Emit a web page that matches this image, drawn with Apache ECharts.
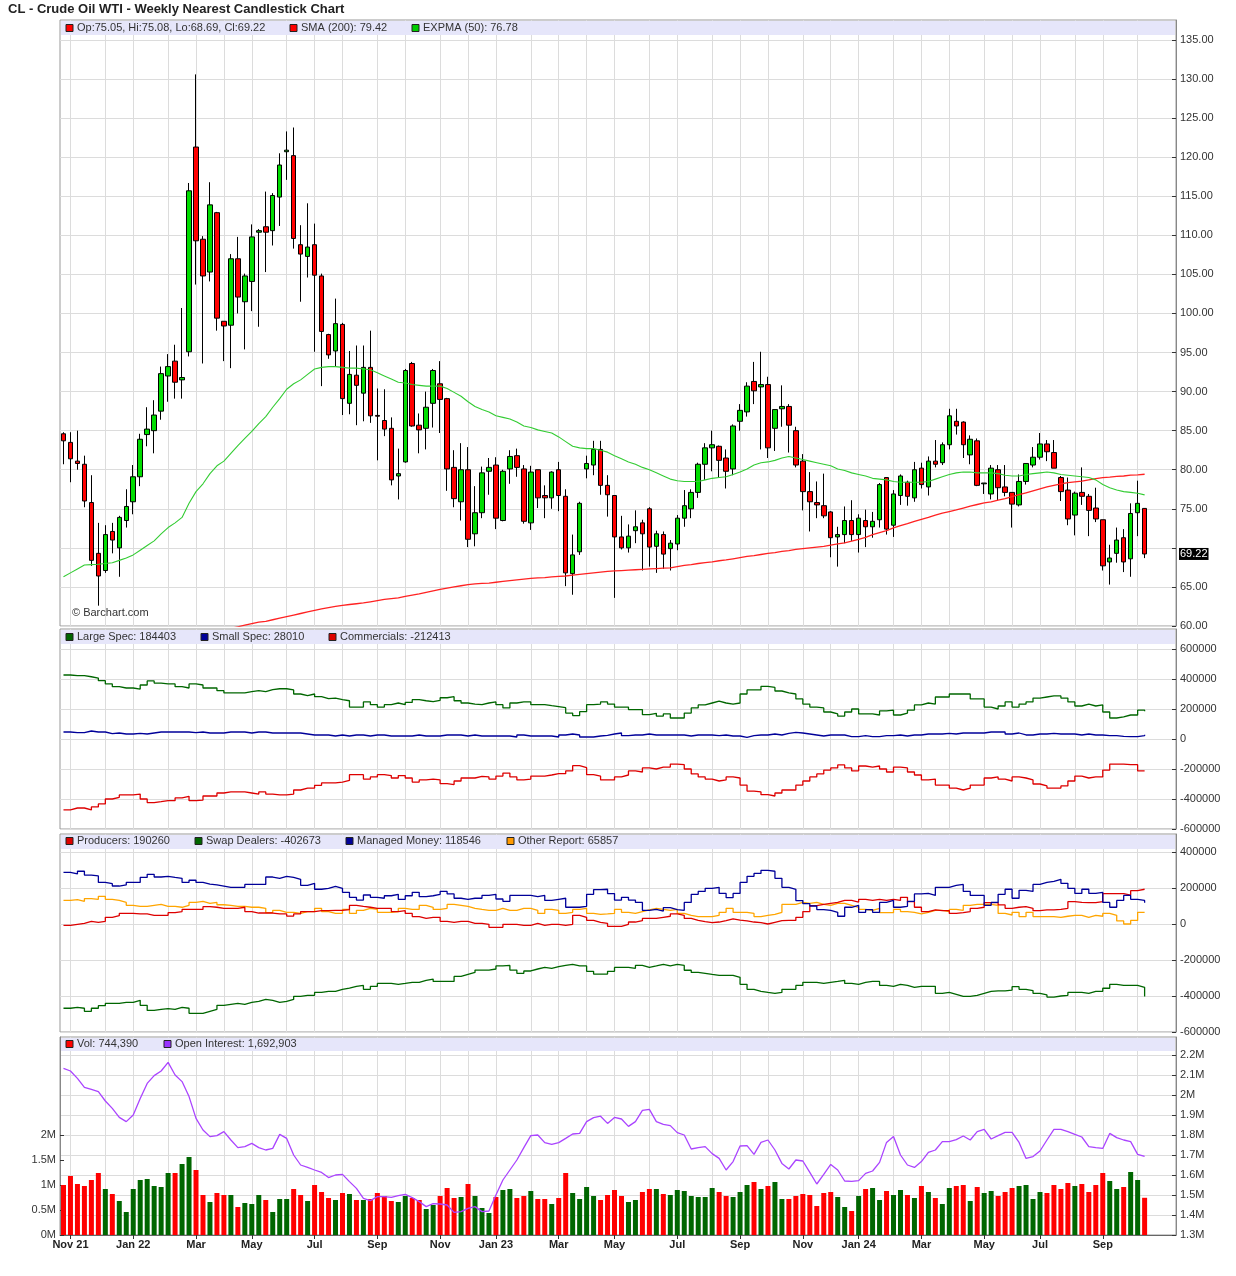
<!DOCTYPE html>
<html>
<head>
<meta charset="utf-8">
<script src="https://cdn.jsdelivr.net/npm/echarts@6/dist/echarts.min.js"></script>
<style>
html, body { margin: 0; padding: 0; background: #fff; }
#chart { width: 1236px; height: 1276px; }
</style>
</head>
<body>
<div id="chart"></div>
<script>
// weekly bars, first week starts Mon 2021-10-25 (4 empty weeks on the right)
var firstWeek = Date.UTC(2021, 9, 25);
var weeks = [];
for (var i = 0; i < 160; i++) {
    weeks.push(new Date(firstWeek + i * 7 * 864e5).toISOString().slice(0, 10));
}
var MONTHS = ['Jan','Feb','Mar','Apr','May','Jun','Jul','Aug','Sep','Oct','Nov','Dec'];

var opens = [
    84.6, 83.5, 81.1, 80.7, 75.8, 69.3, 67.1, 72.1, 70.0, 73.5,
    75.9, 79.1, 84.5, 85.0, 87.5, 92.0, 93.9, 91.5, 95.1, 121.3,
    109.5, 105.3, 112.9, 99.0, 98.5, 107.0, 101.5, 104.1, 110.4, 111.1,
    110.6, 114.9, 120.7, 120.2, 108.8, 107.3, 108.8, 104.8, 97.3, 95.2,
    98.6, 88.5, 92.1, 89.8, 93.1, 86.95, 86.3, 85.3, 79.2, 81.0,
    93.6, 85.7, 85.3, 88.5, 91.0, 89.1, 80.3, 75.9, 80.0, 71.8,
    74.5, 79.8, 80.6, 73.5, 80.1, 81.8, 80.1, 73.2, 80.0, 76.7,
    76.4, 80.0, 76.6, 66.7, 69.5, 80.1, 80.6, 82.6, 78.0, 76.7,
    71.4, 70.0, 72.2, 73.2, 75.0, 70.2, 71.7, 69.9, 70.5, 73.8,
    75.0, 77.1, 80.7, 82.8, 83.0, 81.5, 80.1, 86.2, 87.4, 91.3,
    90.6, 90.9, 85.3, 87.8, 88.1, 85.0, 81.1, 77.2, 75.8, 75.4,
    74.6, 71.4, 71.7, 73.5, 71.7, 73.5, 72.7, 73.6, 79.0, 72.9,
    76.7, 78.4, 76.4, 80.2, 77.8, 81.1, 80.9, 83.2, 86.2, 86.1,
    81.9, 83.7, 78.2, 76.9, 80.0, 77.8, 77.1, 75.5, 78.5, 80.6,
    81.6, 83.3, 82.2, 79.0, 77.4, 74.2, 77.1, 76.6, 75.1, 73.6,
    68.2, 69.3, 71.3, 68.6, 74.5, 75.05
];
var highs = [
    84.8, 84.8, 85.0, 81.8, 79.3, 73.2, 72.9, 73.2, 74.1, 77.5,
    80.6, 84.6, 88.0, 88.9, 93.2, 94.8, 96.0, 100.7, 116.7, 130.6,
    109.9, 116.8, 113.0, 99.0, 107.6, 109.8, 105.1, 111.4, 110.8, 115.6,
    115.4, 120.5, 123.3, 123.8, 111.3, 114.1, 111.5, 105.1, 97.4, 101.9,
    98.8, 95.2, 95.9, 95.9, 97.8, 90.4, 90.3, 86.7, 82.7, 92.9,
    93.8, 87.2, 90.0, 92.9, 93.9, 89.2, 82.5, 83.4, 82.9, 77.9,
    80.4, 81.5, 81.6, 80.0, 82.5, 82.7, 80.6, 80.5, 80.0, 78.0,
    79.8, 81.0, 77.5, 71.7, 75.9, 81.8, 83.7, 83.7, 79.3, 76.7,
    74.1, 73.0, 74.8, 73.6, 75.2, 72.2, 72.1, 71.0, 74.2, 77.4,
    77.5, 80.9, 83.4, 85.0, 83.1, 82.6, 85.8, 88.4, 91.2, 93.8,
    95.1, 91.9, 87.7, 90.8, 88.4, 85.5, 82.0, 79.7, 78.5, 79.5,
    74.7, 72.7, 75.3, 76.1, 74.3, 74.9, 74.6, 78.3, 79.0, 77.4,
    79.4, 78.6, 81.0, 80.9, 81.7, 83.8, 83.5, 87.8, 87.8, 86.2,
    84.4, 84.0, 78.3, 80.6, 80.6, 80.6, 77.1, 79.4, 80.8, 82.9,
    84.7, 83.8, 83.8, 79.2, 79.0, 77.2, 80.3, 76.9, 77.7, 73.6,
    70.4, 72.6, 72.4, 75.7, 78.6, 75.08
];
var lows = [
    80.7, 78.4, 80.0, 75.2, 67.7, 62.6, 66.8, 69.3, 66.3, 72.6,
    74.3, 77.9, 83.0, 82.1, 86.4, 88.7, 89.1, 89.1, 94.5, 103.7,
    93.6, 104.1, 97.8, 93.9, 93.0, 100.0, 95.4, 100.3, 98.3, 105.3,
    108.7, 111.2, 117.1, 108.3, 101.5, 104.6, 95.1, 90.7, 94.2, 93.2,
    87.0, 87.1, 85.7, 86.2, 86.0, 81.2, 84.3, 78.0, 76.2, 80.9,
    85.5, 82.1, 82.6, 85.4, 84.7, 77.3, 75.2, 73.5, 70.1, 70.2,
    73.8, 76.8, 72.4, 73.4, 78.2, 79.1, 73.1, 72.3, 75.1, 73.8,
    75.0, 74.7, 65.1, 64.0, 69.1, 78.9, 79.3, 76.8, 74.0, 63.6,
    69.8, 69.4, 70.6, 67.1, 67.6, 66.8, 67.3, 67.1, 69.7, 72.7,
    73.8, 76.4, 78.7, 79.8, 79.0, 77.6, 79.3, 85.0, 86.8, 88.4,
    82.6, 81.5, 82.4, 85.5, 82.2, 80.3, 74.8, 72.1, 73.8, 73.8,
    68.8, 67.6, 70.6, 70.9, 69.4, 70.1, 71.3, 72.6, 71.7, 71.4,
    75.5, 75.4, 75.9, 77.6, 76.7, 80.3, 80.6, 82.6, 84.5, 81.5,
    80.7, 77.9, 76.9, 76.2, 76.1, 76.6, 72.6, 75.3, 78.1, 80.3,
    81.3, 81.1, 80.2, 76.0, 72.9, 71.6, 75.5, 71.5, 73.3, 67.1,
    65.3, 68.1, 66.9, 66.3, 71.5, 68.69
];
var closes = [
    83.7, 81.4, 80.8, 76.0, 68.4, 66.4, 71.7, 71.0, 73.9, 75.3,
    79.1, 83.9, 85.2, 87.0, 92.3, 93.2, 91.2, 91.8, 115.7, 109.3,
    104.8, 113.9, 99.4, 98.4, 107.0, 102.1, 104.8, 109.8, 110.6, 110.4,
    115.1, 119.0, 120.9, 109.6, 107.6, 108.5, 104.9, 97.7, 94.7, 98.7,
    89.1, 92.2, 90.8, 93.1, 86.9, 86.85, 85.2, 78.7, 79.5, 92.7,
    85.6, 85.1, 88.0, 92.7, 89.0, 80.1, 76.3, 80.0, 71.1, 74.5,
    79.6, 80.3, 73.8, 79.8, 81.7, 80.3, 73.4, 79.7, 76.4, 76.4,
    79.7, 76.7, 66.8, 69.1, 75.7, 80.8, 82.6, 78.0, 76.8, 71.4,
    70.0, 71.5, 72.7, 71.8, 70.1, 71.8, 69.2, 70.6, 73.8, 75.4,
    77.1, 80.7, 82.8, 83.2, 81.2, 79.8, 85.6, 87.6, 90.7, 90.1,
    90.9, 82.8, 87.7, 88.1, 85.7, 80.6, 77.2, 75.9, 75.5, 74.1,
    71.3, 71.7, 73.5, 71.7, 73.8, 72.7, 73.4, 78.1, 72.4, 76.9,
    79.2, 76.6, 80.0, 78.1, 81.1, 80.7, 83.2, 86.9, 85.6, 83.2,
    83.9, 78.0, 78.3, 80.2, 77.7, 77.1, 75.6, 78.5, 80.8, 81.6,
    83.3, 82.3, 80.2, 77.2, 73.7, 77.0, 76.6, 74.8, 73.7, 67.7,
    68.7, 71.0, 68.2, 74.4, 75.7, 69.22
];
var sma200 = Array(21).fill(null).concat([
    59.1, 59.3, 59.5, 59.7, 59.9, 60.1, 60.3, 60.5, 60.6,
    60.8, 61.0, 61.2, 61.4, 61.6, 61.8, 62.0, 62.2, 62.35, 62.5,
    62.65, 62.75, 62.85, 62.95, 63.1, 63.25, 63.4, 63.5, 63.6, 63.8,
    63.95, 64.1, 64.3, 64.5, 64.7, 64.85, 65.0, 65.15, 65.3, 65.4,
    65.45, 65.5, 65.6, 65.7, 65.8, 65.9, 66.0, 66.1, 66.15, 66.2,
    66.3, 66.35, 66.4, 66.5, 66.6, 66.7, 66.8, 66.9, 67.0, 67.05,
    67.1, 67.15, 67.2, 67.25, 67.3, 67.35, 67.4, 67.45, 67.6, 67.75,
    67.85, 68.0, 68.1, 68.2, 68.35, 68.45, 68.6, 68.75, 68.9, 69.0,
    69.15, 69.3, 69.4, 69.55, 69.65, 69.8, 69.9, 70.0, 70.1, 70.2,
    70.35, 70.5, 70.65, 70.85, 71.1, 71.35, 71.7, 71.95, 72.2, 72.55,
    72.85, 73.1, 73.4, 73.65, 73.9, 74.2, 74.45, 74.65, 74.85, 75.1,
    75.35, 75.55, 75.75, 75.9, 76.1, 76.3, 76.55, 76.8, 77.05, 77.3,
    77.55, 77.8, 78.0, 78.2, 78.35, 78.45, 78.55, 78.7, 78.85, 79.0,
    79.05, 79.15, 79.2, 79.3, 79.35, 79.42
]);
var expma50 = [
    66.3, 66.8, 67.3, 67.8, 67.85, 67.9, 68.0, 68.1, 68.4, 68.7,
    69.1, 69.7, 70.3, 70.9, 71.8, 72.6, 73.2, 73.9, 75.7, 77.2,
    78.2, 79.5, 80.5, 81.1, 82.1, 83.1, 84.0, 84.9, 85.9, 86.8,
    88.0, 89.1, 90.3, 91.0, 91.5, 92.2, 92.9, 93.1, 93.2, 93.2,
    93.1, 93.0, 93.0, 92.9, 92.8, 92.4, 92.0, 91.6, 91.2, 91.1,
    90.9, 90.8, 90.7, 90.7, 90.7, 90.4, 89.9, 89.4, 88.7, 88.1,
    87.7, 87.4, 86.9, 86.7, 86.5, 86.1, 85.6, 85.4, 85.1, 84.9,
    84.7, 84.2, 83.6, 83.0, 82.8, 82.7, 82.7, 82.5, 82.25, 81.8,
    81.4, 81.0, 80.7, 80.3, 80.0, 79.6, 79.2, 78.8, 78.6, 78.5,
    78.5, 78.5, 78.7, 78.9, 79.0, 79.1, 79.4, 79.7, 80.1, 80.6,
    80.9, 81.0, 81.2, 81.5, 81.7, 81.5, 81.3, 81.1, 80.9, 80.7,
    80.5, 80.1, 79.9, 79.6, 79.4, 79.2, 78.9, 78.8, 78.7, 78.5,
    78.4, 78.4, 78.4, 78.4, 78.5, 78.8, 79.1, 79.4, 79.6, 79.7,
    79.7, 79.6, 79.6, 79.6, 79.5, 79.3, 79.2, 79.2, 79.4, 79.5,
    79.6, 79.7, 79.6, 79.4, 79.3, 79.2, 79.1, 79.0, 78.7, 78.1,
    77.7, 77.4, 77.2, 77.1, 77.0, 76.78
];

// COT net positions (contracts)
var largeSpec = [
    426700, 422000, 422000, 415000, 406000, 389000, 367000, 349000, 340000, 340000,
    333000, 360000, 387000, 373000, 367000, 367000, 349000, 340000, 367000, 360000,
    340000, 340000, 322000, 307000, 307000, 307000, 316000, 322000, 316000, 329000,
    335000, 335000, 327000, 300000, 289000, 300000, 282000, 269000, 273000, 262000,
    255000, 213000, 213000, 247000, 229000, 213000, 229000, 240000, 229000, 244000,
    262000, 255000, 249000, 258000, 275000, 282000, 255000, 240000, 233000, 229000,
    240000, 247000, 229000, 207000, 240000, 247000, 247000, 229000, 229000, 222000,
    216000, 209000, 173000, 156000, 182000, 229000, 233000, 247000, 233000, 213000,
    213000, 196000, 196000, 162000, 171000, 153000, 167000, 140000, 140000, 173000,
    207000, 227000, 240000, 253000, 240000, 233000, 240000, 300000, 327000, 327000,
    351000, 344000, 320000, 307000, 300000, 267000, 233000, 213000, 207000, 180000,
    167000, 153000, 180000, 200000, 167000, 167000, 160000, 187000, 193000, 160000,
    173000, 193000, 227000, 240000, 233000, 280000, 280000, 300000, 300000, 300000,
    267000, 267000, 213000, 200000, 220000, 247000, 213000, 233000, 247000, 273000,
    280000, 287000, 287000, 273000, 247000, 220000, 233000, 220000, 227000, 180000,
    140000, 147000, 160000, 160000, 193000, 184403
];
var smallSpec = [
    46700, 42200, 42200, 53300, 46700, 46700, 35600, 40000, 33300, 33300,
    37800, 33300, 40000, 46700, 46700, 46700, 46700, 46700, 42200, 46700,
    40000, 40000, 40000, 46700, 46700, 46700, 40000, 46700, 46700, 40000,
    40000, 40000, 40000, 40000, 33300, 26700, 26700, 26700, 20000, 26700,
    20000, 26700, 26700, 20000, 26700, 26700, 20000, 20000, 20000, 20000,
    26700, 20000, 20000, 20000, 26700, 26700, 26700, 20000, 26700, 20000,
    20000, 20000, 20000, 20000, 13300, 26700, 20000, 20000, 20000, 20000,
    13300, 26700, 33300, 26700, 13300, 13300, 20000, 24400, 33300, 40000,
    22200, 26700, 26700, 33300, 26700, 26700, 26700, 26700, 26700, 20000,
    26700, 26700, 26700, 22200, 26700, 20000, 20000, 11100, 22200, 26700,
    26700, 33300, 26700, 37800, 44400, 40000, 33300, 26700, 20000, 26700,
    26700, 26700, 15600, 15600, 22200, 15600, 15600, 22200, 22200, 26700,
    20000, 26700, 26700, 33300, 33300, 33300, 37800, 33300, 40000, 40000,
    40000, 40000, 46700, 46700, 46700, 33300, 40000, 26700, 26700, 33300,
    33300, 37800, 33300, 33300, 33300, 26700, 33300, 26700, 26700, 22200,
    22200, 17800, 15600, 15600, 22200, 28010
];
var commercials = [
    -473000, -460000, -460000, -473000, -453000, -433000, -400000, -389000, -373000, -373000,
    -367000, -400000, -424000, -418000, -411000, -411000, -393000, -382000, -411000, -407000,
    -380000, -380000, -360000, -353000, -353000, -353000, -360000, -367000, -353000, -367000,
    -373000, -373000, -367000, -340000, -327000, -327000, -309000, -293000, -293000, -287000,
    -276000, -238000, -238000, -267000, -253000, -238000, -244000, -260000, -244000, -260000,
    -287000, -273000, -267000, -273000, -298000, -304000, -280000, -260000, -260000, -249000,
    -253000, -267000, -247000, -227000, -253000, -273000, -267000, -247000, -247000, -240000,
    -231000, -231000, -213000, -178000, -191000, -238000, -247000, -273000, -273000, -253000,
    -240000, -213000, -220000, -193000, -200000, -187000, -187000, -167000, -171000, -200000,
    -233000, -253000, -267000, -280000, -273000, -253000, -260000, -307000, -347000, -353000,
    -371000, -380000, -360000, -340000, -340000, -307000, -280000, -253000, -233000, -207000,
    -193000, -173000, -193000, -213000, -180000, -187000, -180000, -200000, -220000, -187000,
    -193000, -220000, -240000, -273000, -267000, -307000, -307000, -327000, -340000, -327000,
    -307000, -307000, -260000, -253000, -267000, -280000, -253000, -260000, -273000, -300000,
    -313000, -327000, -327000, -313000, -280000, -247000, -260000, -253000, -253000, -207000,
    -167000, -167000, -171000, -171000, -213000, -212413
];
var producers = [
    -7400, -1900, 3700, 14800, 9300, 14800, 37000, 46300, 59000, 59000,
    56000, 56000, 48000, 48000, 48000, 63000, 69000, 81000, 81000, 81000,
    96000, 93000, 87000, 87000, 87000, 93000, 69000, 61000, 61000, 61000,
    56000, 56000, 44000, 56000, 69000, 69000, 74000, 74000, 76000, 76000,
    80000, 104000, 98000, 93000, 87000, 87000, 87000, 69000, 74000, 59000,
    41000, 31000, 37000, 37000, 14800, 9300, 14800, 14800, 3700, 3700,
    -1900, -18500, -18500, -1900, -1900, -7400, -7400, 3700, -7400, -1900,
    -1900, -7400, -1900, 48000, 37000, 20400, 9300, 3700, -13000, -13000,
    -1900, 11000, 18500, 31000, 31000, 37000, 43000, 56000, 48000, 31000,
    20000, 13000, 7400, 11000, 18500, 28000, 22000, 17000, 11000, 7400,
    0, 9300, 18500, 20000, 20000, 37000, 69000, 102000, 109000, 115000,
    120000, 131000, 131000, 122000, 137000, 131000, 137000, 131000, 137000, 131000,
    148000, 124000, 93000, 69000, 78000, 74000, 74000, 59000, 63000, 69000,
    87000, 93000, 119000, 119000, 106000, 87000, 93000, 96000, 87000, 74000,
    78000, 78000, 81000, 87000, 124000, 120000, 119000, 119000, 124000, 169000,
    169000, 169000, 161000, 185000, 193000, 190260
];
var swapDealers = [
    -468000, -463000, -468000, -485000, -468000, -454000, -441000, -441000, -435000, -435000,
    -424000, -452000, -480000, -474000, -470000, -474000, -463000, -468000, -496000, -496000,
    -485000, -474000, -452000, -446000, -441000, -446000, -435000, -430000, -419000, -424000,
    -435000, -430000, -419000, -402000, -396000, -396000, -380000, -374000, -374000, -363000,
    -356000, -346000, -341000, -363000, -346000, -330000, -330000, -335000, -330000, -324000,
    -324000, -313000, -306000, -319000, -319000, -319000, -291000, -280000, -269000, -256000,
    -256000, -250000, -233000, -230000, -256000, -274000, -261000, -250000, -241000, -246000,
    -237000, -230000, -224000, -233000, -233000, -263000, -278000, -278000, -263000, -241000,
    -241000, -246000, -230000, -241000, -233000, -224000, -233000, -224000, -230000, -257000,
    -269000, -274000, -280000, -285000, -285000, -285000, -296000, -335000, -363000, -374000,
    -380000, -385000, -380000, -363000, -363000, -341000, -324000, -324000, -330000, -324000,
    -319000, -313000, -330000, -335000, -324000, -319000, -319000, -341000, -346000, -335000,
    -341000, -352000, -346000, -346000, -346000, -385000, -380000, -391000, -402000, -402000,
    -396000, -385000, -374000, -372000, -372000, -367000, -348000, -363000, -370000, -385000,
    -394000, -406000, -400000, -396000, -380000, -380000, -385000, -374000, -374000, -357000,
    -335000, -341000, -341000, -341000, -352000, -402673
];
var managedMoney = [
    287000, 278000, 293000, 272000, 267000, 231000, 224000, 211000, 217000, 231000,
    231000, 259000, 276000, 261000, 265000, 259000, 254000, 231000, 243000, 231000,
    222000, 217000, 211000, 204000, 204000, 204000, 220000, 220000, 220000, 261000,
    254000, 265000, 259000, 248000, 215000, 226000, 193000, 198000, 209000, 198000,
    176000, 148000, 133000, 161000, 148000, 143000, 157000, 165000, 137000, 157000,
    176000, 152000, 157000, 165000, 181000, 167000, 143000, 137000, 143000, 143000,
    159000, 165000, 139000, 126000, 159000, 159000, 159000, 152000, 159000, 131000,
    137000, 143000, 93000, 93000, 98000, 165000, 191000, 193000, 169000, 133000,
    148000, 133000, 120000, 76000, 81000, 72000, 91000, 80000, 76000, 120000,
    165000, 181000, 198000, 204000, 170000, 146000, 170000, 231000, 265000, 281000,
    298000, 293000, 254000, 204000, 193000, 130000, 113000, 100000, 80000, 76000,
    65000, 43000, 93000, 104000, 65000, 80000, 65000, 120000, 131000, 93000,
    98000, 126000, 167000, 170000, 159000, 204000, 204000, 215000, 220000, 181000,
    159000, 159000, 104000, 120000, 165000, 193000, 143000, 187000, 181000, 220000,
    231000, 237000, 248000, 226000, 198000, 170000, 193000, 170000, 176000, 120000,
    93000, 131000, 159000, 137000, 131000, 118546
];
var otherReport = [
    131000, 135000, 126000, 141000, 137000, 154000, 137000, 131000, 120000, 104000,
    98000, 98000, 104000, 109000, 98000, 98000, 93000, 104000, 120000, 126000,
    115000, 120000, 107000, 104000, 98000, 98000, 93000, 93000, 87000, 63000,
    76000, 65000, 65000, 59000, 69000, 69000, 87000, 69000, 59000, 59000,
    81000, 59000, 76000, 87000, 81000, 65000, 65000, 69000, 87000, 81000,
    81000, 104000, 93000, 81000, 87000, 109000, 104000, 98000, 87000, 81000,
    76000, 76000, 87000, 76000, 76000, 87000, 87000, 76000, 59000, 81000,
    76000, 59000, 65000, 81000, 87000, 59000, 54000, 56000, 59000, 81000,
    65000, 59000, 69000, 78000, 87000, 81000, 76000, 81000, 59000, 48000,
    41000, 41000, 41000, 48000, 65000, 87000, 65000, 65000, 59000, 41000,
    48000, 54000, 65000, 109000, 109000, 120000, 115000, 120000, 109000, 104000,
    115000, 115000, 104000, 93000, 81000, 76000, 87000, 63000, 63000, 81000,
    69000, 65000, 56000, 65000, 76000, 76000, 69000, 81000, 76000, 104000,
    109000, 109000, 109000, 104000, 59000, 50000, 65000, 41000, 65000, 41000,
    41000, 41000, 37000, 43000, 48000, 48000, 37000, 48000, 43000, 59000,
    48000, 17000, 0, 20000, 65000, 65857
];

// volume and open interest, millions of contracts
var volume = [
    1.00, 1.18, 1.02, 0.98, 1.10, 1.24, 0.92, 0.82, 0.68, 0.46,
    0.92, 1.10, 1.12, 0.98, 0.96, 1.24, 1.24, 1.42, 1.56, 1.30,
    0.80, 0.66, 0.84, 0.80, 0.80, 0.56, 0.64, 0.62, 0.80, 0.70,
    0.46, 0.72, 0.72, 0.92, 0.80, 0.68, 1.00, 0.86, 0.74, 0.70,
    0.84, 0.82, 0.70, 0.70, 0.72, 0.84, 0.78, 0.68, 0.66, 0.78,
    0.74, 0.70, 0.52, 0.60, 0.78, 0.94, 0.74, 0.76, 1.02, 0.78,
    0.54, 0.44, 0.76, 0.90, 0.92, 0.74, 0.78, 0.88, 0.72, 0.72,
    0.62, 0.74, 1.24, 0.84, 0.72, 0.96, 0.78, 0.70, 0.80, 0.90,
    0.78, 0.66, 0.70, 0.86, 0.92, 0.92, 0.82, 0.80, 0.90, 0.88,
    0.78, 0.76, 0.76, 0.94, 0.86, 0.78, 0.76, 0.86, 1.00, 1.06,
    0.92, 0.98, 1.06, 0.72, 0.72, 0.78, 0.82, 0.80, 0.58, 0.84,
    0.86, 0.76, 0.56, 0.48, 0.78, 0.92, 0.94, 0.70, 0.88, 0.80,
    0.90, 0.80, 0.74, 0.98, 0.86, 0.74, 0.62, 0.94, 0.98, 1.00,
    0.68, 0.96, 0.84, 0.88, 0.78, 0.86, 0.94, 0.98, 1.00, 0.72,
    0.86, 0.84, 1.00, 0.92, 1.04, 0.98, 1.02, 0.86, 1.00, 1.24,
    1.08, 0.92, 0.96, 1.26, 1.10, 0.74439
];
var openInterest = [
    2.133, 2.120, 2.083, 2.038, 2.028, 2.017, 1.970, 1.933, 1.888, 1.867,
    1.900, 1.983, 2.058, 2.097, 2.120, 2.163, 2.100, 2.067, 1.992, 1.883,
    1.825, 1.792, 1.797, 1.817, 1.775, 1.737, 1.742, 1.758, 1.737, 1.725,
    1.733, 1.803, 1.783, 1.700, 1.650, 1.638, 1.625, 1.613, 1.587, 1.600,
    1.603, 1.567, 1.533, 1.483, 1.472, 1.492, 1.492, 1.488, 1.497, 1.503,
    1.487, 1.467, 1.442, 1.457, 1.455, 1.450, 1.413, 1.417, 1.433, 1.442,
    1.417, 1.420, 1.500, 1.575, 1.625, 1.675, 1.737, 1.797, 1.800, 1.762,
    1.753, 1.762, 1.783, 1.805, 1.808, 1.867, 1.887, 1.894, 1.858, 1.888,
    1.880, 1.843, 1.867, 1.923, 1.928, 1.867, 1.853, 1.847, 1.812, 1.800,
    1.730, 1.737, 1.742, 1.707, 1.683, 1.625, 1.667, 1.745, 1.747, 1.703,
    1.763, 1.775, 1.725, 1.658, 1.630, 1.675, 1.670, 1.613, 1.555, 1.603,
    1.653, 1.625, 1.570, 1.568, 1.572, 1.608, 1.620, 1.663, 1.763, 1.793,
    1.700, 1.650, 1.638, 1.667, 1.713, 1.725, 1.767, 1.767, 1.777, 1.795,
    1.775, 1.817, 1.828, 1.780, 1.797, 1.813, 1.813, 1.763, 1.683, 1.692,
    1.720, 1.775, 1.828, 1.828, 1.817, 1.803, 1.790, 1.742, 1.737, 1.733,
    1.808, 1.787, 1.775, 1.767, 1.703, 1.692903
];

// tick values on the value axes (70.00 label is covered by the last-price tag)
var priceTicks = [60, 65, 70, 75, 80, 85, 90, 95, 100, 105, 110, 115, 120, 125, 130, 135];
var priceLabels = [60, 65, 75, 80, 85, 90, 95, 100, 105, 110, 115, 120, 125, 130, 135];
var cotTicks1 = [-600000, -400000, -200000, 0, 200000, 400000, 600000];
var cotTicks2 = [-600000, -400000, -200000, 0, 200000, 400000];
var oiTicks = [1.3, 1.4, 1.5, 1.6, 1.7, 1.8, 1.9, 2.0, 2.1, 2.2];
var volTicks = [0, 0.5, 1, 1.5, 2];

var UP = '#00dd00', DOWN = '#ff0000', VOL_UP = '#006600';
var FONT = '"Liberation Sans", Arial, sans-serif';
var n = opens.length - 1;

function isMonthStart(i) { return i <= n && +weeks[i].slice(8, 10) <= 7; }
function isLabel(i) { return isMonthStart(i) && (+weeks[i].slice(5, 7)) % 2 === 1; }
function labelText(value) {
    var m = +value.slice(5, 7), y = value.slice(2, 4);
    return MONTHS[m - 1] + ((m === 1 || value.slice(0, 4) === '2021') ? ' ' + y : '');
}

var monthLines = weeks.filter(function (w, i) { return isMonthStart(i); })
    .map(function (w) { return { xAxis: w }; });
function gridLines() {
    return {
        silent: true, z: 1, symbol: ['none', 'none'],
        label: { show: false },
        lineStyle: { color: '#dcdcdc', width: 1, type: 'solid' },
        emphasis: { disabled: true },
        data: monthLines
    };
}

function valueAxis(grid, ticks, labels, fmt, opt) {
    var ax = {
        type: 'value', gridIndex: grid, position: 'right',
        axisLine: { show: true, lineStyle: { color: '#888' } },
        axisTick: { show: true, inside: true, length: 4, lineStyle: { color: '#333' }, customValues: ticks },
        axisLabel: { fontSize: 11, color: '#333', margin: 4, fontFamily: FONT, customValues: labels, formatter: fmt },
        splitLine: { show: true, lineStyle: { color: '#dcdcdc' } }
    };
    for (var k in opt) ax[k] = opt[k];
    return ax;
}
function millions(v) {
    var r = Math.round(v * 10) / 10;
    return (r === 0 ? '0' : (r % 1 === 0 ? r.toFixed(0) : r.toFixed(1))) + 'M';
}

var candleData = opens.map(function (o, i) { return [o, closes[i], lows[i], highs[i]]; });
var volData = volume.map(function (v, i) {
    return { value: v, itemStyle: { color: closes[i] >= opens[i] ? VOL_UP : DOWN } };
});

function legendItems(y, items) {
    var out = [];
    items.forEach(function (it) {
        out.push({ type: 'rect', z: 60, shape: { x: it.x, y: y - 3.5, width: 7, height: 7 },
            style: { fill: it.color, stroke: '#222', lineWidth: 1 } });
        out.push({ type: 'text', z: 60, x: it.x + 11, y: y,
            style: { text: it.text, fill: '#333', font: '11px ' + FONT, verticalAlign: 'middle' } });
    });
    return out;
}
function band(y0, y1) {
    return { type: 'rect', z: 50, shape: { x: 61, y: y0, width: 1114, height: y1 - y0 },
        style: { fill: '#e6e6fa' } };
}
function fmtInt(v) { return Math.round(v).toLocaleString('en-US'); }

var graphics = [
    { type: 'text', x: 8, y: 9, z: 60,
      style: { text: 'CL - Crude Oil WTI - Weekly Nearest Candlestick Chart', fill: '#222',
               font: 'bold 13px ' + FONT, verticalAlign: 'middle' } },
    { type: 'text', x: 72, y: 613, z: 60,
      style: { text: '\u00a9 Barchart.com', fill: '#333', font: '11px ' + FONT, verticalAlign: 'middle' } },
    band(21, 35), band(630, 644), band(835, 849), band(1038, 1051)
].concat(
    legendItems(28, [
        { x: 66, color: closes[n] < opens[n] ? DOWN : UP,
          text: 'Op:' + opens[n].toFixed(2) + ', Hi:' + highs[n].toFixed(2) + ', Lo:' + lows[n].toFixed(2) + ', Cl:' + closes[n].toFixed(2) },
        { x: 290, color: '#ff0000', text: 'SMA (200): ' + sma200[n].toFixed(2) },
        { x: 412, color: '#00cc00', text: 'EXPMA (50): ' + expma50[n].toFixed(2) }
    ]),
    legendItems(637, [
        { x: 66, color: '#006600', text: 'Large Spec: ' + largeSpec[n] },
        { x: 201, color: '#000099', text: 'Small Spec: ' + smallSpec[n] },
        { x: 329, color: '#dd0000', text: 'Commercials: ' + commercials[n] }
    ]),
    legendItems(841, [
        { x: 66, color: '#dd0000', text: 'Producers: ' + producers[n] },
        { x: 195, color: '#006600', text: 'Swap Dealers: ' + swapDealers[n] },
        { x: 346, color: '#000099', text: 'Managed Money: ' + managedMoney[n] },
        { x: 507, color: '#ff9900', text: 'Other Report: ' + otherReport[n] }
    ]),
    legendItems(1044, [
        { x: 66, color: closes[n] < opens[n] ? DOWN : VOL_UP, text: 'Vol: ' + fmtInt(volume[n] * 1e6) },
        { x: 164, color: '#9933ff', text: 'Open Interest: ' + fmtInt(openInterest[n] * 1e6) }
    ])
);

function stepLine(name, data, color, axis) {
    return { name: name, type: 'line', step: 'end', data: data, xAxisIndex: axis, yAxisIndex: axis,
        symbol: 'none', lineStyle: { color: color, width: 1.3 }, itemStyle: { color: color } };
}

function grid(top, height) {
    return { top: top, height: height, left: 60, right: 60, show: true, borderColor: '#999', borderWidth: 1 };
}

var chart = echarts.init(document.getElementById('chart'), null, { renderer: 'canvas' });
chart.setOption({
    animation: false,
    backgroundColor: '#fff',
    textStyle: { fontFamily: FONT },
    grid: [grid(20, 606), grid(629, 200), grid(834, 198), grid(1037, 198)],
    xAxis: [0, 1, 2, 3].map(function (g) {
        var last = g === 3;
        return {
            type: 'category', gridIndex: g, data: weeks, boundaryGap: true,
            axisLine: { show: last, lineStyle: { color: '#666' } },
            axisTick: { show: last, alignWithLabel: true, length: 4, lineStyle: { color: '#333' },
                        interval: function (i) { return isLabel(i); } },
            axisLabel: { show: last, interval: function (i) { return isLabel(i); },
                         formatter: labelText, fontWeight: 'bold', fontSize: 11, color: '#222',
                         margin: 4, fontFamily: FONT },
            splitLine: { show: false }
        };
    }),
    yAxis: [
        valueAxis(0, priceTicks, priceLabels, function (v) { return v.toFixed(2); },
            { min: 60, max: 137.56, interval: 5 }),
        valueAxis(1, cotTicks1, cotTicks1, function (v) { return String(Math.round(v)); },
            { min: -600000, max: 733333, interval: 200000 }),
        valueAxis(2, cotTicks2, cotTicks2, function (v) { return String(Math.round(v)); },
            { min: -600000, max: 500000, interval: 200000 }),
        valueAxis(3, oiTicks, oiTicks, millions, { min: 1.3, max: 2.29, interval: 0.1 }),
        valueAxis(3, volTicks, volTicks, millions, { position: 'left', min: 0, max: 3.96, interval: 0.5,
            splitLine: { show: false } })
    ],
    graphic: graphics,
    series: [
        {
            name: 'price', type: 'candlestick', xAxisIndex: 0, yAxisIndex: 0,
            data: candleData, barWidth: 5,
            itemStyle: { color: UP, color0: DOWN, borderColor: '#000', borderColor0: '#000', borderWidth: 1 },
            markLine: gridLines()
        },
        { name: 'sma', type: 'line', data: sma200, xAxisIndex: 0, yAxisIndex: 0, symbol: 'none',
          lineStyle: { color: '#ff2222', width: 1.3 } },
        { name: 'expma', type: 'line', data: expma50, xAxisIndex: 0, yAxisIndex: 0, symbol: 'none',
          lineStyle: { color: '#33cc33', width: 1.1 },
          markLine: {
              silent: true, symbol: ['none', 'none'],
              lineStyle: { color: 'rgba(0,0,0,0)', width: 1 },
              emphasis: { disabled: true },
              label: { show: true, position: 'end', formatter: closes[n].toFixed(2),
                       backgroundColor: '#000', color: '#fff', padding: [1, 1, 0, 1],
                       fontSize: 11, fontFamily: FONT, distance: 3 },
              data: [{ yAxis: closes[n] }]
          } },

        (function () { var s = stepLine('Large Spec', largeSpec, '#006600', 1); s.markLine = gridLines(); return s; })(),
        stepLine('Small Spec', smallSpec, '#000099', 1),
        stepLine('Commercials', commercials, '#dd0000', 1),

        (function () { var s = stepLine('Other Report', otherReport, '#ffa500', 2); s.markLine = gridLines(); return s; })(),
        stepLine('Producers', producers, '#dd0000', 2),
        stepLine('Managed Money', managedMoney, '#000099', 2),
        stepLine('Swap Dealers', swapDealers, '#006600', 2),

        { name: 'Vol', type: 'bar', data: volData, xAxisIndex: 3, yAxisIndex: 4, barWidth: 5,
          markLine: gridLines() },
        { name: 'Open Interest', type: 'line', data: openInterest, xAxisIndex: 3, yAxisIndex: 3,
          symbol: 'none', lineStyle: { color: '#aa44ff', width: 1.3 } }
    ]
});
</script>
</body>
</html>
